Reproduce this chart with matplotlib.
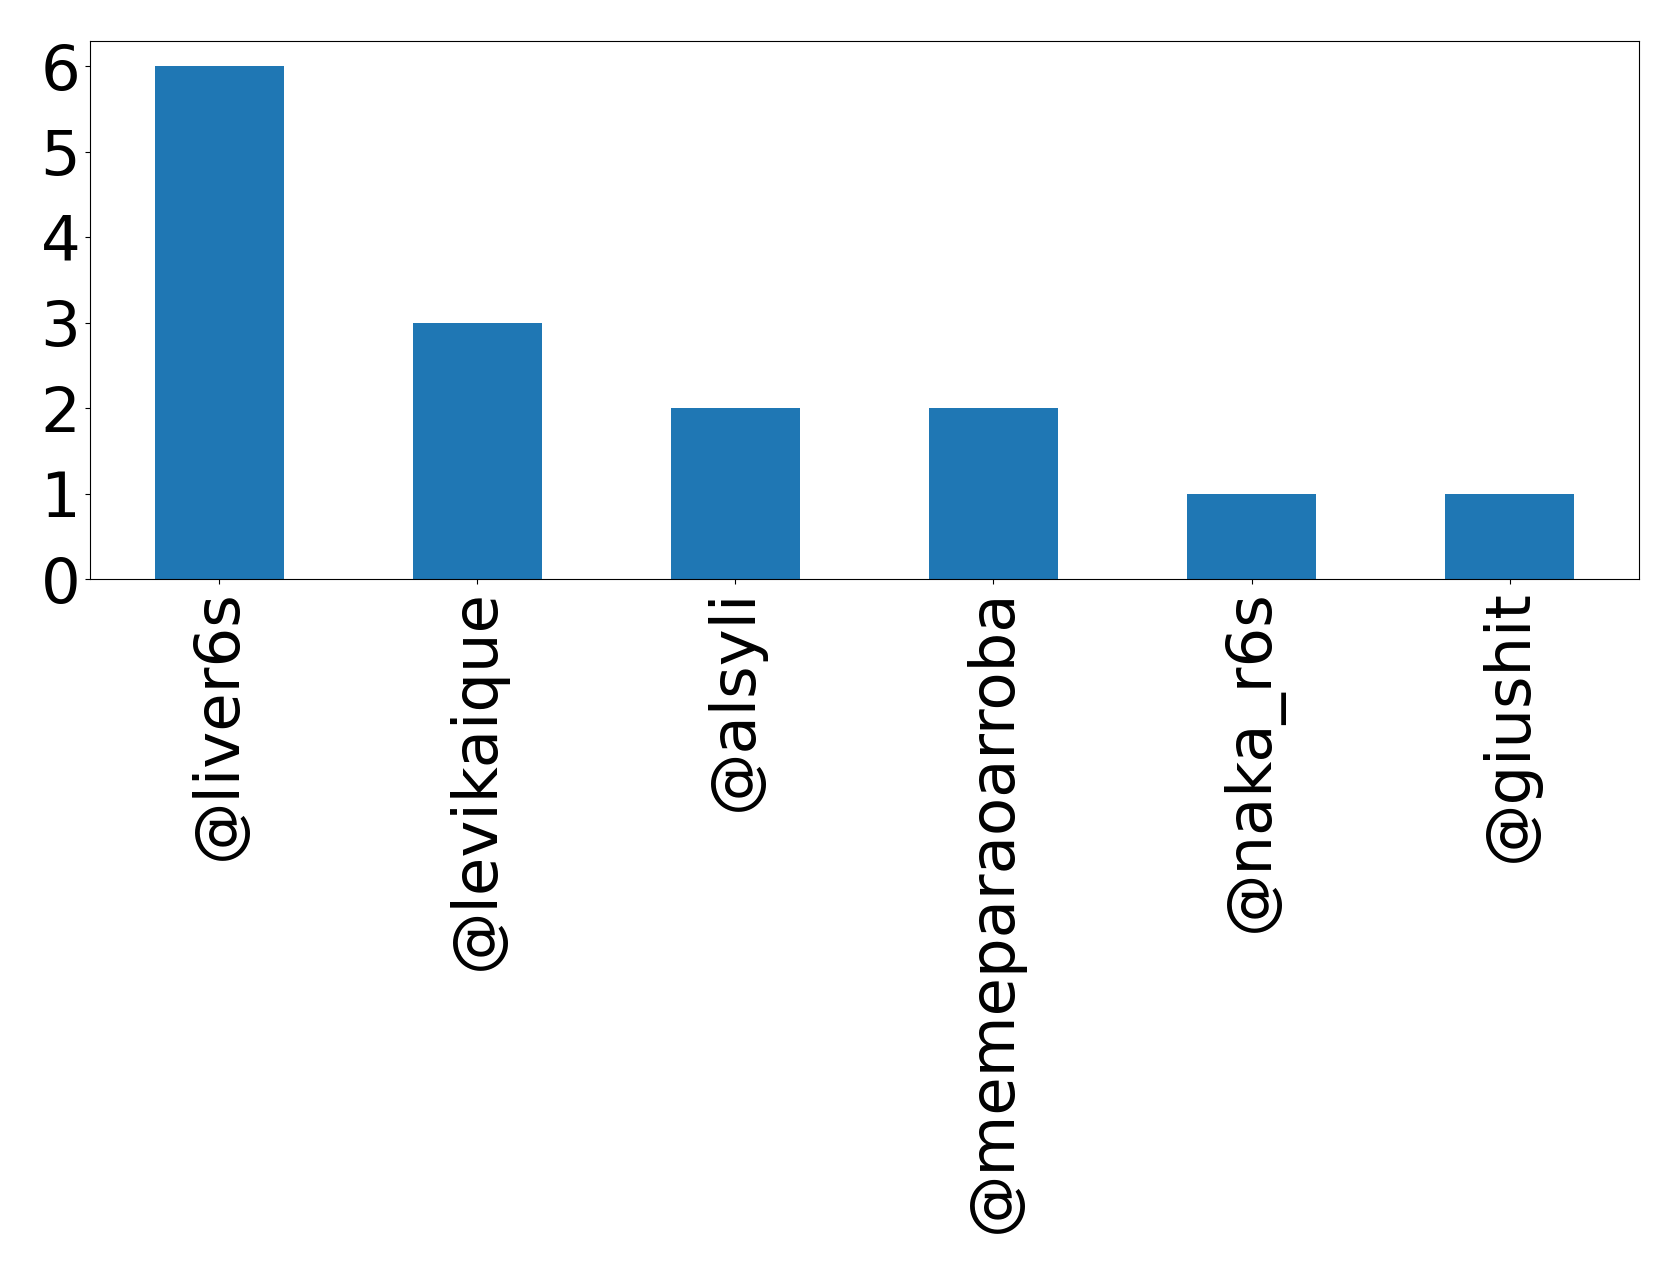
import matplotlib
matplotlib.use("Agg")
import matplotlib.pyplot as plt

users = ["@liver6s", "@levikaique", "@alsyli", "@memeparaoarroba", "@naka_r6s", "@giushit"]
counts = [6, 3, 2, 2, 1, 1]

fig = plt.figure(figsize=(16.79, 12.73), dpi=100)
ax = fig.add_axes([0.0536, 0.545, 0.9224, 0.423])
x = list(range(len(users)))
ax.bar(x, counts, width=0.5, color="#1f77b4")
ax.set_xlim(-0.5, len(users) - 0.5)
ax.set_ylim(0, 6.3)
ax.set_xticks(x)
ax.set_xticklabels(users, rotation=90, fontsize=45)
ax.set_yticks(range(0, 7))
ax.tick_params(axis="y", labelsize=45)
fig.savefig("out.png", dpi=100)
